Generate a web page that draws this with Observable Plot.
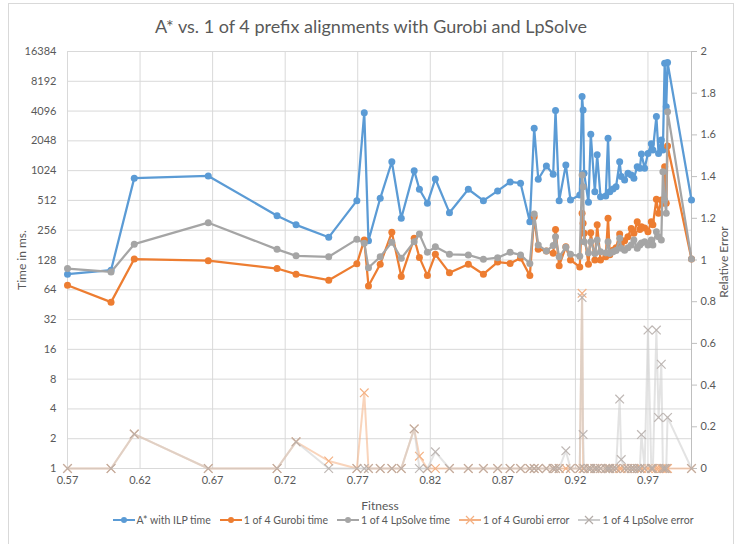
<!DOCTYPE html>
<html><head><meta charset="utf-8">
<script src="https://cdn.jsdelivr.net/npm/d3@7"></script>
<script src="https://cdn.jsdelivr.net/npm/@observablehq/plot@0.6"></script>
<style>
body{margin:0;background:#fff;}
#wrap{position:relative;width:734px;height:544px;overflow:hidden;font-family:Lato,"Open Sans",sans-serif;color:#595959;background:#fff;}
#frame{position:absolute;left:8px;top:3px;width:724px;height:600px;border:1px solid #d9d9d9;}
#title{position:absolute;top:15px;left:0;width:742px;text-align:center;font-size:18px;}
#chart{position:absolute;left:0;top:0;}
#ylab{position:absolute;left:21px;top:260px;font-size:12px;transform:translate(-50%,-50%) rotate(-90deg);white-space:nowrap;}
#ylab2{position:absolute;left:723px;top:262px;font-size:12px;transform:translate(-50%,-50%) rotate(-90deg);white-space:nowrap;}
#xlab{position:absolute;left:380px;top:505px;font-size:12px;transform:translate(-50%,-50%);}
#legend{position:absolute;top:514px;left:36px;width:734px;display:flex;justify-content:center;gap:9px;font-size:10.5px;}
#legend .it{display:flex;align-items:center;gap:2px;}
</style></head>
<body><div id="wrap"><div id="frame"></div><div id="chart"></div>
<div id="title">A* vs. 1 of 4 prefix alignments with Gurobi and LpSolve</div>
<div id="ylab">Time in ms.</div><div id="ylab2">Relative Error</div>
<div id="xlab">Fitness</div><div id="legend"></div></div>
<script>
const fitness = [0.570,0.600,0.616,0.667,0.7144,0.7275,0.750,0.7694,0.7745,0.7774,
0.7855,0.7935,0.800,0.8089,0.8125,0.818,0.8235,0.8332,0.8462,0.8566,
0.8664,0.875,0.8822,0.8886,0.8916,0.8944,0.900,0.9047,0.9063,0.9088,
0.9134,0.9166,0.923,0.9246,0.9253,0.926,0.929,0.9306,0.9334,0.935,
0.9373,0.9409,0.9425,0.9437,0.9459,0.948,0.9505,0.9516,0.9539,0.9562,
0.9585,0.9603,0.9626,0.9644,0.9655,0.9677,0.970,0.9723,0.9734,0.9758,
0.9773,0.9792,0.9803,0.9815,0.9826,0.9835,1.000];
const astarTime = [92,101,860,905,359,290,217,509,3950,200,
538,1260,338,1024,664,479,844,385,664,509,
639,787,764,312,2745,838,1143,942,4150,509,
1170,517,580,5740,4200,963,490,2390,627,1478,
559,568,2180,627,669,705,1260,891,826,962,
927,858,1123,1080,1511,1080,1530,1910,1660,3600,
1530,2090,1660,12500,4540,12700,517];
const gurobiTime = [71,48,131,126,105,92,80,117,204,70,
116,244,87,212,136,89,146,95,116,92,
122,118,134,89,350,164,158,150,261,112,
174,128,109,380,301,238,116,242,128,290,
128,138,338,145,161,170,234,181,200,220,
267,238,312,260,278,270,247,312,290,526,
380,517,480,1123,479,1820,131];
const lpsolveTime = [105,97,185,305,164,141,138,207,189,107,
138,193,133,196,234,153,174,146,144,130,
135,153,144,118,373,181,158,179,220,138,
172,146,140,927,705,196,151,196,149,204,
155,151,196,149,155,160,212,168,161,170,
181,204,168,181,190,196,181,204,181,247,
220,204,1000,517,380,4040,131];
const gurobiError = [0,0,0.165,0,0,0.128,0.036,0,0.363,0,
0,0,0,0.19,0.059,0,0,0,0,0,
0,0,0,0,0,0,0,0,0,0,
0,0,0,0.84,0,0,0,0,0,0,
0,0,0,0,0,0,0,0,0,0,
0,0,0,0,0,0,0,0,0,0,
0,0,0,0,0,0,0];
const lpsolveError = [0,0,0.165,0,0,0.128,0,0,0,0,
0,0,0,0.19,0,0,0.08,0,0,0,
0,0,0,0,0,0,0,0,0,0,
0.085,0,0,0.82,0.163,0,0,0,0,0,
0,0,0,0,0,0,0.333,0.043,0,0,
0,0,0,0,0.163,0,0.664,0,0,0.664,
0.245,0.5,0,0,0,0.245,0];
const xTicks = [0.57,0.62,0.67,0.72,0.77,0.82,0.87,0.92,0.97];
const yTicks = [1,2,4,8,16,32,64,128,256,512,1024,2048,4096,8192,16384];
const errTicks = [0,0.2,0.4,0.6,0.8,1,1.2,1.4,1.6,1.8,2];
const seriesNames = ["A* with ILP time","1 of 4 Gurobi time","1 of 4 LpSolve time","1 of 4 Gurobi error","1 of 4 LpSolve error"];
const colors = ["#5b9bd5","#ed7d31","#a5a5a5","#f4b183","#b4aca8"];

// error axis (0..2) shares the log2 y scale: e -> 2^(7e)
const errToY = e => Math.pow(2, 7*e);
const rows = fitness.map((f,i)=>({f, a:astarTime[i], g:gurobiTime[i], l:lpsolveTime[i], ge:errToY(gurobiError[i]), le:errToY(lpsolveError[i])}));

const chart = Plot.plot({
  width:734, height:544,
  marginLeft:67, marginRight:43, marginTop:51, marginBottom:76,
  style:{fontFamily:'Lato,"Open Sans",sans-serif', fontSize:"11px", color:"#595959", background:"transparent", overflow:"visible"},
  x:{domain:[0.57,1.0]},
  y:{type:"log", base:2, domain:[1,16384]},
  marks:[
    Plot.ruleX(xTicks,{x:d=>d, y1:1, y2:16384, stroke:"#d9d9d9", strokeWidth:1}),
    Plot.ruleY(yTicks,{y:d=>d, x1:0.57, x2:1.0, stroke:"#d9d9d9", strokeWidth:1}),
    Plot.ruleX([1.0],{x:d=>d, y1:1, y2:16384, stroke:"#bfbfbf", strokeWidth:1}),
    Plot.axisY(yTicks,{anchor:"left", tickSize:0, tickPadding:11, tickFormat:d=>String(d), label:null}),
    Plot.axisY(errTicks.map(errToY),{anchor:"right", tickSize:5, tickPadding:4, stroke:"#bfbfbf", tickFormat:d=>d3.format(".1~f")(Math.log2(d)/7), label:null}),
    Plot.axisX(xTicks,{anchor:"bottom", tickSize:0, tickPadding:8, tickFormat:d3.format(".2f"), label:null}),
    Plot.line(rows,{x:"f", y:"a", stroke:colors[0], strokeWidth:2.25}),
    Plot.dot(rows,{x:"f", y:"a", fill:colors[0], r:3.5}),
    Plot.line(rows,{x:"f", y:"g", stroke:colors[1], strokeWidth:2.25}),
    Plot.dot(rows,{x:"f", y:"g", fill:colors[1], r:3.5}),
    Plot.line(rows,{x:"f", y:"l", stroke:colors[2], strokeWidth:2.25}),
    Plot.dot(rows,{x:"f", y:"l", fill:colors[2], r:3.5}),
    Plot.line(rows,{x:"f", y:"ge", stroke:colors[3], strokeWidth:2, strokeOpacity:0.55}),
    Plot.dot(rows,{x:"f", y:"ge", symbol:"times", stroke:colors[3], r:4, strokeWidth:1.2}),
    Plot.line(rows,{x:"f", y:"le", stroke:"#cccccc", strokeWidth:2, strokeOpacity:0.55}),
    Plot.dot(rows,{x:"f", y:"le", symbol:"times", stroke:colors[4], r:4, strokeWidth:1.2, strokeOpacity:0.85})
  ]
});
document.getElementById("chart").appendChild(chart);

const legend = document.getElementById("legend");
seriesNames.forEach((name,i)=>{
  const it = document.createElement("div"); it.className="it";
  const isErr = i>=3;
  const c = colors[i];
  const lineC = i===4 ? "#cccccc" : c;
  const mk = isErr
    ? `<path d="M7,2 L15,10 M15,2 L7,10" stroke="${c}" stroke-width="1.2" fill="none"/>`
    : `<circle cx="11" cy="6" r="3" fill="${c}"/>`;
  it.innerHTML = `<svg width="22" height="12"><line x1="0" y1="6" x2="22" y2="6" stroke="${lineC}" stroke-width="2"/>${mk}</svg><span>${name}</span>`;
  legend.appendChild(it);
});
</script></body></html>
